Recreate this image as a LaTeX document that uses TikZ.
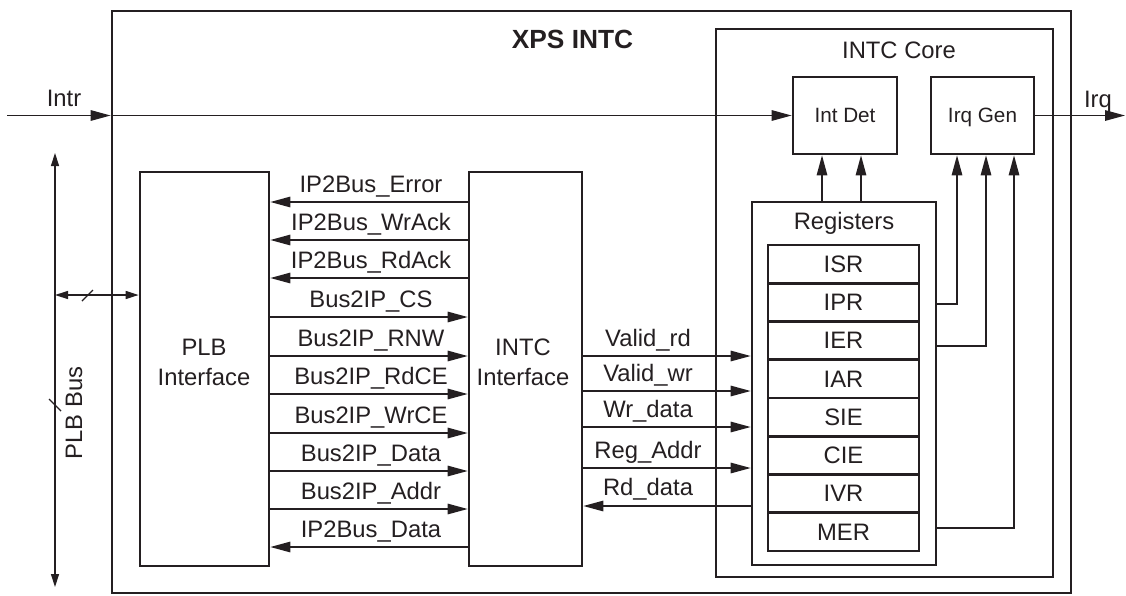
\documentclass[tikz,border=0pt]{standalone}
\usepackage{fontspec}
\setmainfont{Liberation Sans}
\usetikzlibrary{arrows.meta}
\definecolor{ink}{rgb}{0.14,0.12,0.13}
\newcommand\fsz{\fontsize{23.8}{28}\selectfont}
\newcommand\fsm{\fontsize{20.7}{24}\selectfont}
\newcommand\fsb{\fontsize{26.3}{30}\selectfont\bfseries}
\begin{document}
\begin{tikzpicture}[x=1pt,y=-1pt,
  box/.style={draw=ink, line width=2.7pt, inner sep=0pt, text=ink, font=\fsz},
  sig/.style={draw=ink, line width=1.4pt},
  arr/.style={sig, -{Triangle[length=20pt,width=10.5pt]}},
  busarr/.style={sig, {Triangle[length=13pt,width=8pt]}-{Triangle[length=13pt,width=8pt]}},
  lbl/.style={font=\fsz, text=ink, anchor=base, inner sep=0pt},
  reg/.style={box, minimum width=151pt, minimum height=38.25pt}]
\useasboundingbox (0,0) rectangle (1126,595);
% boxes
\node[box, minimum width=959pt, minimum height=582pt] (xps) at (591.5,302) {};
\node[box, minimum width=337pt, minimum height=548pt] (core) at (884.5,303) {};
\node[box, minimum width=104pt, minimum height=77pt] (intdet) at (845,115.5) {};
\node[box, minimum width=103pt, minimum height=77pt] (irqgen) at (982.5,115.5) {};
\node[box, minimum width=184pt, minimum height=363pt] (regs) at (844,383.5) {};
\node[box, minimum width=129pt, minimum height=394pt] (plb) at (204.5,369) {};
\node[box, minimum width=113pt, minimum height=394pt] (intcif) at (525.5,369) {};
% register rows
\node[reg] (isr) at (843.5,264.1) {ISR};
\node[reg] (ipr) at (843.5,302.4) {IPR};
\node[reg] (ier) at (843.5,340.6) {IER};
\node[reg] (iar) at (843.5,378.9) {IAR};
\node[reg] (sie) at (843.5,417.1) {SIE};
\node[reg] (cie) at (843.5,455.4) {CIE};
\node[reg] (ivr) at (843.5,493.6) {IVR};
\node[reg] (mer) at (843.5,531.9) {MER};
% titles
\node[lbl, font=\fsb] (tx) at (572.5,48) {XPS INTC};
\node[lbl] (tcore) at (899,58) {INTC Core};
\node[lbl, font=\fsm] (tid) at (845,122) {Int Det};
\node[lbl, font=\fsm] (tig) at (982.5,122) {Irq Gen};
\node[lbl] (treg) at (844,229) {Registers};
\node[lbl] (tplb1) at (204,355) {PLB};
\node[lbl] (tplb2) at (204,385) {Interface};
\node[lbl] (tif1) at (523,355) {INTC};
\node[lbl] (tif2) at (523,385) {Interface};
% Intr and Irq
\coordinate (intrin) at (7,115.5);
\coordinate (irqout) at (1125,115.5);
\draw[arr] (intrin) -- (xps.west |- intrin);
\draw[arr] (xps.west |- intrin) -- (intdet.west);
\node[lbl] (tintr) at (64,106) {Intr};
\draw[arr] (irqgen.east) -- (irqout);
\node[lbl] (tirq) at (1098,107) {Irq};
% registers to Int Det
\coordinate (id1) at (822,154);
\coordinate (id2) at (861,154);
\draw[arr] (regs.north -| id1) -- (intdet.south -| id1);
\draw[arr] (regs.north -| id2) -- (intdet.south -| id2);
% registers to Irq Gen
\coordinate (ig1) at (957,304);
\coordinate (ig2) at (986,346);
\coordinate (ig3) at (1014,528);
\draw[arr] (regs.east |- ig1) -| (irqgen.south -| ig1);
\draw[arr] (regs.east |- ig2) -| (irqgen.south -| ig2);
\draw[arr] (regs.east |- ig3) -| (irqgen.south -| ig3);
% PLB <-> INTC interface signals
\coordinate (s1) at (0,202);
\coordinate (s2) at (0,240);
\coordinate (s3) at (0,278);
\coordinate (s4) at (0,317);
\coordinate (s5) at (0,356);
\coordinate (s6) at (0,394);
\coordinate (s7) at (0,433);
\coordinate (s8) at (0,471);
\coordinate (s9) at (0,509);
\coordinate (s10) at (0,547);
\draw[arr] (intcif.west |- s1) -- (plb.east |- s1);
\draw[arr] (intcif.west |- s2) -- (plb.east |- s2);
\draw[arr] (intcif.west |- s3) -- (plb.east |- s3);
\draw[arr] (plb.east |- s4) -- (intcif.west |- s4);
\draw[arr] (plb.east |- s5) -- (intcif.west |- s5);
\draw[arr] (plb.east |- s6) -- (intcif.west |- s6);
\draw[arr] (plb.east |- s7) -- (intcif.west |- s7);
\draw[arr] (plb.east |- s8) -- (intcif.west |- s8);
\draw[arr] (plb.east |- s9) -- (intcif.west |- s9);
\draw[arr] (intcif.west |- s10) -- (plb.east |- s10);
\node[lbl] (l1) at (371,192.5) {IP2Bus\_Error};
\node[lbl] (l2) at (371,230.5) {IP2Bus\_WrAck};
\node[lbl] (l3) at (371,268.5) {IP2Bus\_RdAck};
\node[lbl] (l4) at (371,307.5) {Bus2IP\_CS};
\node[lbl] (l5) at (371,346.5) {Bus2IP\_RNW};
\node[lbl] (l6) at (371,384.5) {Bus2IP\_RdCE};
\node[lbl] (l7) at (371,423.5) {Bus2IP\_WrCE};
\node[lbl] (l8) at (371,461.5) {Bus2IP\_Data};
\node[lbl] (l9) at (371,499.5) {Bus2IP\_Addr};
\node[lbl] (l10) at (371,537.5) {IP2Bus\_Data};
% INTC interface <-> registers
\coordinate (r1) at (0,356);
\coordinate (r2) at (0,391);
\coordinate (r3) at (0,427);
\coordinate (r4) at (0,468);
\coordinate (r5) at (0,506);
\draw[arr] (intcif.east |- r1) -- (regs.west |- r1);
\draw[arr] (intcif.east |- r2) -- (regs.west |- r2);
\draw[arr] (intcif.east |- r3) -- (regs.west |- r3);
\draw[arr] (intcif.east |- r4) -- (regs.west |- r4);
\draw[arr] (regs.west |- r5) -- (intcif.east |- r5);
\node[lbl] (m1) at (648,346) {Valid\_rd};
\node[lbl] (m2) at (648,381) {Valid\_wr};
\node[lbl] (m3) at (648,417) {Wr\_data};
\node[lbl] (m4) at (648,458) {Reg\_Addr};
\node[lbl] (m5) at (648,495) {Rd\_data};
% PLB bus
\coordinate (bustop) at (55,153);
\coordinate (busbot) at (55,587);
\coordinate (busmid) at (55,295);
\draw[busarr] (bustop) -- (busbot);
\draw[busarr] (busmid) -- (plb.west |- busmid);
\draw[sig] (82,301) -- (93,290);
\draw[sig] (49,399) -- (61,411);
\node[font=\fsz, text=ink, rotate=90, inner sep=0pt] (tbus) at (74,413) {PLB Bus};
\end{tikzpicture}
\end{document}
